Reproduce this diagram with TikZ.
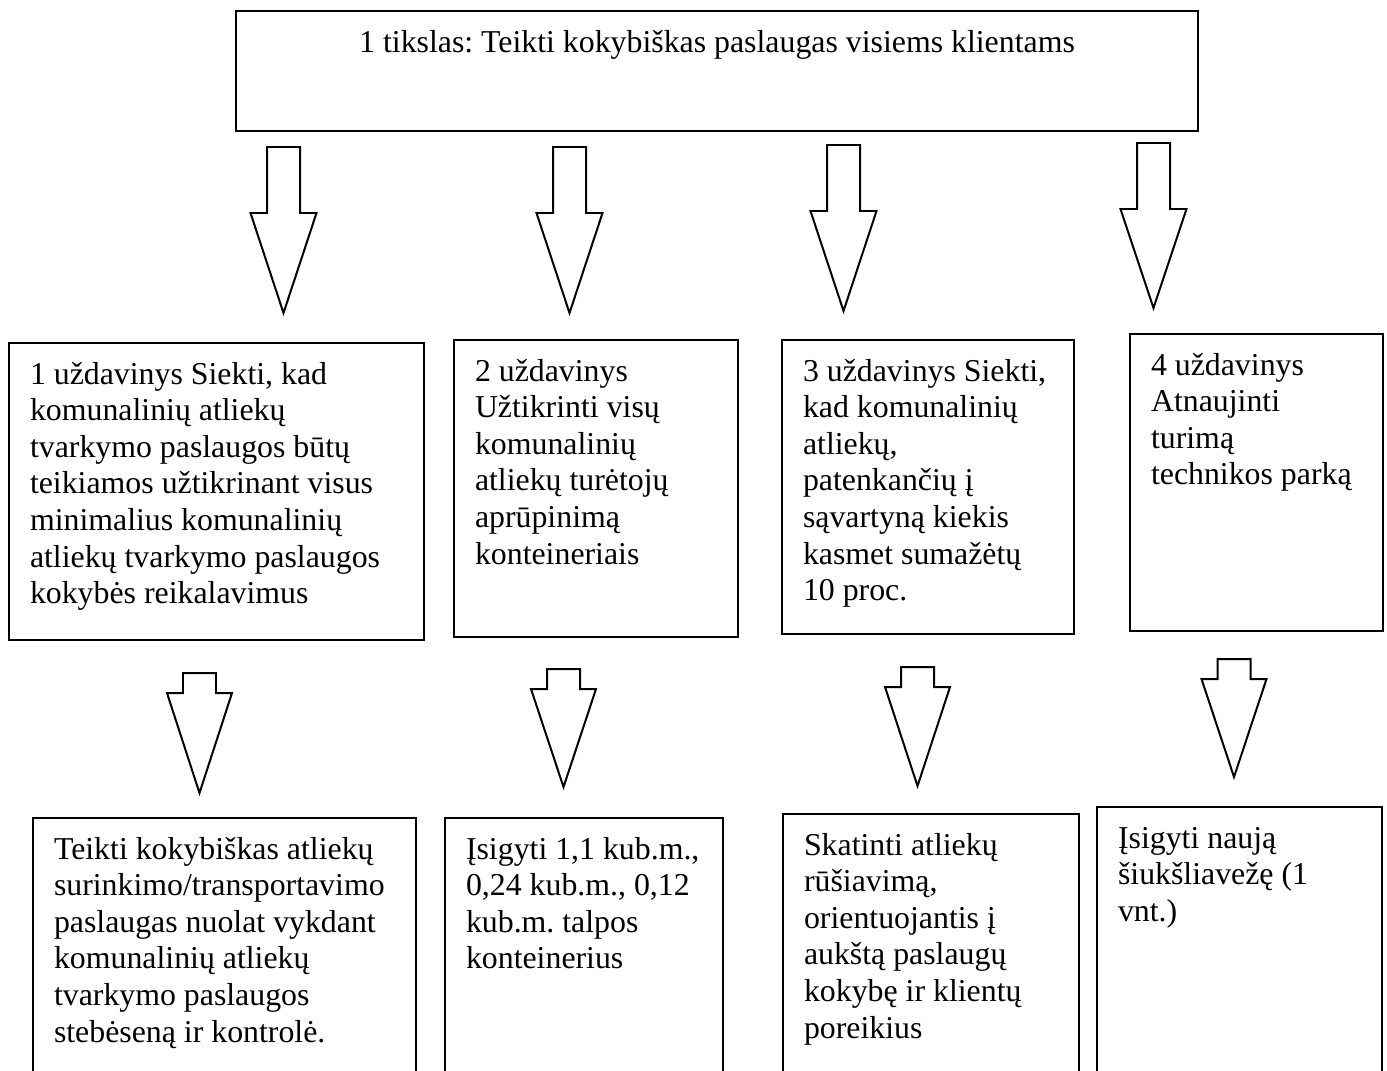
\documentclass[tikz,border=0pt]{standalone}
\usepackage{fontspec}
\setmainfont{Liberation Serif}
\frenchspacing

\newdimen\px
\px=0.377pt
% text block of a box: width, height (in px), text
\newcommand{\boxtext}[3]{\parbox[t][#2\px][t]{#1\px}{\raggedright\strut #3}}
\newcommand{\goaltext}[3]{\parbox[t][#2\px][t]{#1\px}{\centering\strut #3}}

\tikzset{
  pics/blockarrow/.style args={#1/#2/#3}{code={
    \draw[outline] (-16.5,0) -- (16.5,0) -- (16.5,#1) -- (#3,#1) -- (0,{#1+#2}) -- (-#3,#1) -- (-16.5,#1) -- cycle;
  }}
}

\begin{document}
\begin{tikzpicture}[x=0.377pt, y=-0.377pt, font=\fontsize{12}{13.8}\selectfont\frenchspacing,
  taskbox/.style={draw, line width=0.75pt, inner xsep=7.92pt, inner ysep=5.84pt, anchor=north west},
  outline/.style={line width=0.75pt}]
	\path[fill=white,use as bounding box] (0,0) rectangle (1387,1070);

	\node[taskbox] (goal) at (235,10) {\goaltext{920}{89}{1 tikslas: Teikti kokybiškas paslaugas visiems klientams}};

	\node[taskbox] (task1) at (8,342) {\boxtext{373}{266}{1 uždavinys Siekti, kad\\ komunalinių atliekų\\ tvarkymo paslaugos būtų\\ teikiamos užtikrinant visus\\ minimalius komunalinių\\ atliekų tvarkymo paslaugos\\ kokybės reikalavimus}};
	\node[taskbox] (task2) at (453,339) {\boxtext{242}{266}{2 uždavinys\\ Užtikrinti visų\\ komunalinių\\ atliekų turėtojų\\ aprūpinimą\\ konteineriais}};
	\node[taskbox] (task3) at (781,339) {\boxtext{250}{263}{3 uždavinys Siekti,\\ kad komunalinių\\ atliekų,\\ patenkančių į\\ sąvartyną kiekis\\ kasmet sumažėtų\\ 10 proc.}};
	\node[taskbox] (task4) at (1129,333) {\boxtext{211}{266}{4 uždavinys\\ Atnaujinti\\ turimą\\ technikos parką}};

	\node[taskbox] (act1) at (32,817) {\boxtext{341}{239}{Teikti kokybiškas atliekų\\ surinkimo/transportavimo\\ paslaugas nuolat vykdant\\ komunalinių atliekų\\ tvarkymo paslaugos\\ stebėseną ir kontrolė.}};
	\node[taskbox] (act2) at (444,817) {\boxtext{236}{239}{Įsigyti 1,1 kub.m.,\\ 0,24 kub.m., 0,12\\ kub.m. talpos\\ konteinerius}};
	\node[taskbox] (act3) at (782,813) {\boxtext{254}{243}{Skatinti atliekų\\ rūšiavimą,\\ orientuojantis į\\ aukštą paslaugų\\ kokybę ir klientų\\ poreikius}};
	\node[taskbox] (act4) at (1096,806) {\boxtext{243}{250}{Įsigyti naują\\ šiukšliavežę (1\\ vnt.)}};

	% arrows from the goal to the tasks
	\foreach \x/\y/\h in {283.5/147/100, 569.5/147/100, 843.5/145/100, 1153.5/143/99}
		\pic at (\x,\y) {blockarrow=66/\h/33};
	% arrows from the tasks to the actions
	\foreach \x/\y/\h in {199.5/673/100, 563.5/669/98, 917.5/667/99, 1234/659/98}
		\pic at (\x,\y) {blockarrow=20/\h/32.5};
\end{tikzpicture}
\end{document}
